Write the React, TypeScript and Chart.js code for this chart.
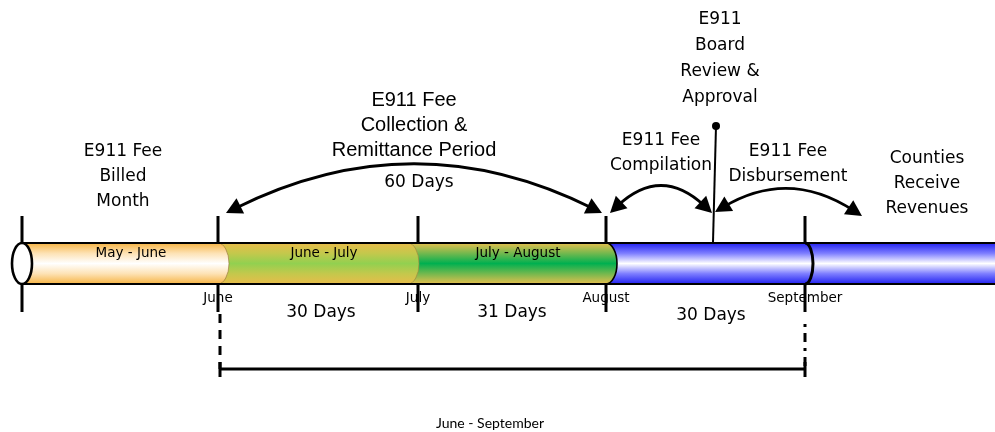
import React, { useEffect, useRef } from 'react';
import { Chart, registerables } from 'chart.js';

Chart.register(...registerables);

// ---------- data (timeline units on a 0..995 horizontal axis, 0..432 vertical layout axis) ----------
const tubeRow = 263.5;
const tubeStart = 22;
const tubeEnd = 995;

const segmentLabels = ['May - June', 'June - July', 'July - August', ''];
const segmentFrom = [22, 218, 408, 606];
const segmentTo = [218, 408, 606, 995];

const tickAt = [22, 218, 418, 606, 805];
const monthLabels = ['June', 'July', 'August', 'September'];
const monthAt = [218, 418, 606, 805];
const septemberAt = 805;

const dayLabels = ['30 Days', '31 Days', '30 Days'];
const dayAt = [321, 512, 711];
const dayRow = [313, 313, 316];

const captionLines = [
  ['E911 Fee', 'Billed', 'Month'],
  ['E911 Fee', 'Collection &', 'Remittance Period'],
  ['E911', 'Board', 'Review &', 'Approval'],
  ['E911 Fee', 'Compilation'],
  ['E911 Fee', 'Disbursement'],
  ['Counties', 'Receive', 'Revenues'],
];
const captionAt = [123, 414, 720, 661, 788, 927];
const captionRow = [152, 100, 20, 141, 152, 159];

const periodLabel = '60 Days';
const periodAt = 419;
const periodRow = 183;

const arcFrom = [226, 610, 715];
const arcFromRow = [213, 213, 212];
const arcTo = [602, 712, 862];
const arcToRow = [213, 213, 216];
const arcPeakRow = [166, 189, 191];

const boardAt = 716;
const boardDotRow = 126;

const spanFrom = 220;
const spanTo = 805;
const spanRow = 369;
const spanLabel = 'June - September';
const spanLabelAt = 490;
const spanLabelRow = 423;

// ---------- styles ----------
const tubeHalf = 20.5;
const capRx = 11;
const gradientStops: string[][] = [
  ['#f6b444', '#fde2b4', '#ffffff', '#fde2b4', '#f6b444'],
  ['#e8bc4a', '#c4c84c', '#92d050', '#c4c84c', '#e8bc4a'],
  ['#e6bf4e', '#74b84e', '#00b050', '#74b84e', '#e6bf4e'],
  ['#2222f0', '#7d7dff', '#ffffff', '#7d7dff', '#2222f0'],
];
const capStroke = ['#9a7a3a', '#9a8a40', '#000000'];
const capStrokeWidth = [0.7, 0.7, 1.6];

const TAHOMA = '"DejaVu Sans", Verdana, sans-serif';
const ARIAL = '"Liberation Sans", Arial, sans-serif';

function tubeGradient(chart: any, i: number) {
  const { ctx, chartArea, scales } = chart;
  const stops = gradientStops[i];
  if (!chartArea || !scales.y) return stops[2];
  const yc = scales.y.getPixelForValue(tubeRow);
  const g = ctx.createLinearGradient(0, yc - tubeHalf, 0, yc + tubeHalf);
  g.addColorStop(0, stops[0]);
  g.addColorStop(0.25, stops[1]);
  g.addColorStop(0.5, stops[2]);
  g.addColorStop(0.75, stops[3]);
  g.addColorStop(1, stops[4]);
  return g;
}

function arrowHead(ctx: CanvasRenderingContext2D, tx: number, ty: number, dx: number, dy: number) {
  const len = Math.hypot(dx, dy) || 1;
  const ux = dx / len;
  const uy = dy / len;
  const L = 16;
  const W = 8.5;
  const bx = tx - ux * L;
  const by = ty - uy * L;
  ctx.beginPath();
  ctx.moveTo(tx, ty);
  ctx.lineTo(bx - uy * W, by + ux * W);
  ctx.lineTo(bx + uy * W, by - ux * W);
  ctx.closePath();
  ctx.fill();
}

const timelinePlugin = {
  id: 'timelineDecor',
  afterDatasetsDraw(chart: any) {
    const { ctx, scales } = chart;
    const X = (v: number) => scales.x.getPixelForValue(v);
    const Y = (v: number) => scales.y.getPixelForValue(v);
    const yc = Y(tubeRow);
    const top = yc - tubeHalf;
    const bot = yc + tubeHalf;
    ctx.save();

    // segment caps
    for (let i = 0; i < 3; i++) {
      const cx = X(segmentTo[i]);
      ctx.beginPath();
      ctx.ellipse(cx, yc, capRx, tubeHalf, 0, -Math.PI / 2, Math.PI / 2, false);
      ctx.closePath();
      ctx.fillStyle = tubeGradient(chart, i);
      ctx.fill();
      ctx.beginPath();
      ctx.ellipse(cx, yc, capRx, tubeHalf, 0, -Math.PI / 2, Math.PI / 2, false);
      ctx.strokeStyle = capStroke[i];
      ctx.lineWidth = capStrokeWidth[i];
      ctx.stroke();
    }
    // September arc
    ctx.beginPath();
    ctx.ellipse(X(septemberAt), yc, 8, tubeHalf, 0, -Math.PI / 2, Math.PI / 2, false);
    ctx.strokeStyle = '#000';
    ctx.lineWidth = 3;
    ctx.stroke();

    // tube outline
    ctx.beginPath();
    ctx.moveTo(X(tubeStart), top);
    ctx.lineTo(X(tubeEnd), top);
    ctx.moveTo(X(tubeStart), bot);
    ctx.lineTo(X(tubeEnd), bot);
    ctx.lineWidth = 2.2;
    ctx.stroke();

    // tick lines above and below the tube
    ctx.lineWidth = 3;
    tickAt.forEach((t) => {
      ctx.beginPath();
      ctx.moveTo(X(t), Y(216));
      ctx.lineTo(X(t), top);
      ctx.moveTo(X(t), bot);
      ctx.lineTo(X(t), Y(312));
      ctx.stroke();
    });

    // left end ellipse
    ctx.beginPath();
    ctx.ellipse(X(tubeStart), yc, 10, tubeHalf, 0, 0, Math.PI * 2);
    ctx.fillStyle = '#fff';
    ctx.fill();
    ctx.lineWidth = 2.6;
    ctx.stroke();

    // board review marker
    ctx.beginPath();
    ctx.moveTo(X(boardAt), Y(boardDotRow));
    ctx.lineTo(X(boardAt - 3), top - 1);
    ctx.lineWidth = 2;
    ctx.stroke();
    ctx.beginPath();
    ctx.arc(X(boardAt), Y(boardDotRow), 4, 0, Math.PI * 2);
    ctx.fillStyle = '#000';
    ctx.fill();

    // arcs with arrow heads
    ctx.lineWidth = 2.8;
    ctx.fillStyle = '#000';
    for (let i = 0; i < arcFrom.length; i++) {
      const x0 = X(arcFrom[i]);
      const y0 = Y(arcFromRow[i]);
      const x2 = X(arcTo[i]);
      const y2 = Y(arcToRow[i]);
      const cx = (x0 + x2) / 2;
      const cy = (4 * Y(arcPeakRow[i]) - y0 - y2) / 2;
      const back = 10;
      const d0 = Math.hypot(x0 - cx, y0 - cy);
      const d2 = Math.hypot(x2 - cx, y2 - cy);
      ctx.beginPath();
      ctx.moveTo(x0 + ((cx - x0) / d0) * back, y0 + ((cy - y0) / d0) * back);
      ctx.quadraticCurveTo(cx, cy, x2 + ((cx - x2) / d2) * back, y2 + ((cy - y2) / d2) * back);
      ctx.stroke();
      arrowHead(ctx, x0, y0, x0 - cx, y0 - cy);
      arrowHead(ctx, x2, y2, x2 - cx, y2 - cy);
    }

    // dashed drops and span bracket
    ctx.lineWidth = 3;
    ctx.setLineDash([9, 7]);
    ctx.beginPath();
    ctx.moveTo(X(spanFrom), Y(314));
    ctx.lineTo(X(spanFrom), Y(spanRow));
    ctx.stroke();
    ctx.setLineDash([3, 6, 9, 6]);
    ctx.beginPath();
    ctx.moveTo(X(spanTo), Y(324));
    ctx.lineTo(X(spanTo), Y(spanRow));
    ctx.stroke();
    ctx.setLineDash([]);
    ctx.beginPath();
    ctx.moveTo(X(spanFrom), Y(spanRow));
    ctx.lineTo(X(spanTo), Y(spanRow));
    ctx.moveTo(X(spanFrom), Y(spanRow) - 7);
    ctx.lineTo(X(spanFrom), Y(spanRow) + 8);
    ctx.moveTo(X(spanTo), Y(spanRow) - 7);
    ctx.lineTo(X(spanTo), Y(spanRow) + 8);
    ctx.stroke();

    // texts
    ctx.fillStyle = '#000';
    ctx.textAlign = 'center';
    ctx.textBaseline = 'middle';

    ctx.font = `13.5px ${TAHOMA}`;
    for (let i = 0; i < segmentLabels.length; i++) {
      if (!segmentLabels[i]) continue;
      const mid = (segmentFrom[i] + segmentTo[i]) / 2 + capRx;
      ctx.fillText(segmentLabels[i], X(mid), Y(253));
    }
    ctx.font = `13.5px ${TAHOMA}`;
    monthLabels.forEach((m, i) => ctx.fillText(m, X(monthAt[i]), Y(298)));

    ctx.font = `17px ${TAHOMA}`;
    dayLabels.forEach((d, i) => ctx.fillText(d, X(dayAt[i]), Y(dayRow[i])));

    captionLines.forEach((lines, i) => {
      ctx.font = i === 1 ? `20px ${ARIAL}` : `17px ${TAHOMA}`;
      const gap = i === 2 ? 25.7 : 25;
      lines.forEach((ln, k) => ctx.fillText(ln, X(captionAt[i]), Y(captionRow[i] + k * gap)));
    });
    ctx.font = `17px ${TAHOMA}`;
    ctx.fillText(periodLabel, X(periodAt), Y(periodRow));

    ctx.font = '14px Lato, "Open Sans", sans-serif';
    ctx.fillText(spanLabel, X(spanLabelAt), Y(spanLabelRow));

    ctx.restore();
  },
};

export default function App() {
  const ref = useRef<HTMLCanvasElement | null>(null);
  useEffect(() => {
    if (!ref.current) return;
    const chart = new Chart(ref.current, {
      type: 'bar',
      data: {
        datasets: segmentFrom.map((f, i) => ({
          label: segmentLabels[i] || 'August - September',
          data: [{ x: [f, segmentTo[i]], y: tubeRow }] as any,
          backgroundColor: (c: any) => tubeGradient(c.chart, i),
          borderWidth: 0,
          barThickness: tubeHalf * 2,
          grouped: false,
        })),
      },
      options: {
        indexAxis: 'y',
        animation: false,
        responsive: false,
        events: [],
        layout: { padding: 0 },
        plugins: { legend: { display: false }, tooltip: { enabled: false } },
        scales: {
          x: { type: 'linear', min: 0, max: 995, offset: false, display: false },
          y: { type: 'linear', min: 0, max: 432, reverse: true, offset: false, display: false },
        },
      },
      plugins: [timelinePlugin],
    } as any);
    return () => chart.destroy();
  }, []);
  return (
    <div style={{ position: 'fixed', left: 0, top: 0, width: 995, height: 432, background: '#fff' }}>
      <canvas ref={ref} width={995} height={432} style={{ display: 'block' }} />
    </div>
  );
}
